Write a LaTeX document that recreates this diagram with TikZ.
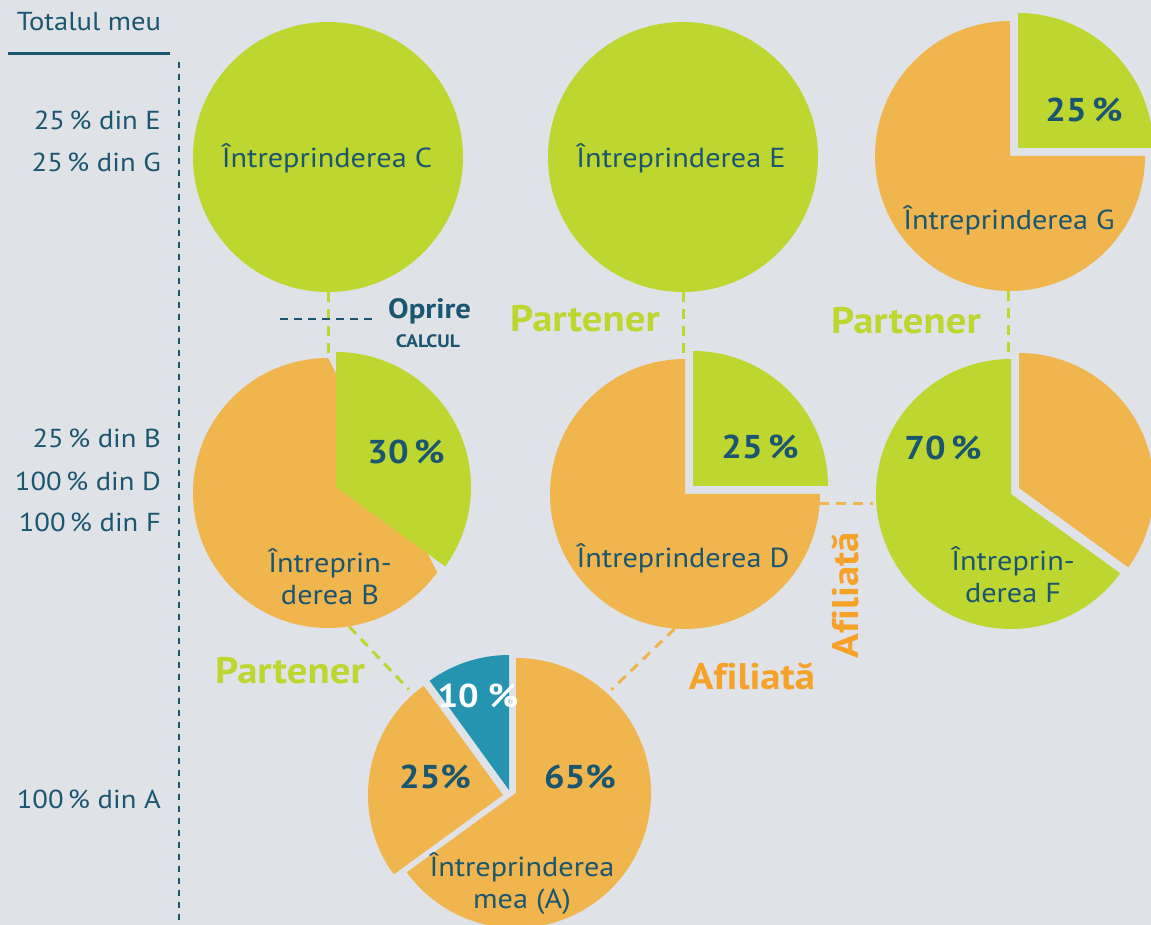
\documentclass[tikz,border=0pt]{standalone}
\usepackage{fontspec}
\setmainfont[FakeStretch=1.1]{PT Sans}
\usetikzlibrary{calc}
\definecolor{bg}{HTML}{DFE2E7}
\definecolor{lime}{HTML}{BED630}
\definecolor{ora}{HTML}{F0B54D}
\definecolor{txt}{HTML}{1B5670}
\definecolor{lbl}{HTML}{F6A229}
\definecolor{blu}{HTML}{2494B0}
\newcommand{\myslice}[5]{\fill[#1] (#2) -- ++(#3:#5) arc[start angle=#3,end angle=#4,radius=#5] -- cycle;}
\begin{document}
\begin{tikzpicture}[x=1pt,y=1pt,
 anchorc/.style={circle,minimum size=270pt,inner sep=0pt},
 reg/.style={text=txt,font=\fontsize{27.5}{32}\selectfont,inner sep=0pt,align=center},
 side/.style={text=txt,font=\fontsize{26}{31}\selectfont,inner sep=0pt,anchor=east},
 pct/.style={text=txt,font=\fontsize{33}{36}\selectfont\bfseries,inner sep=0pt},
 rel/.style={font=\fontsize{37}{40}\selectfont\bfseries\addfontfeatures{Ligatures=NoCommon},inner sep=0pt},
 gdash/.style={lime,line width=3pt,dash pattern=on 10pt off 7pt},
 odash/.style={ora,line width=3pt,dash pattern=on 10pt off 7pt},
 tdash/.style={txt,line width=1.8pt,dash pattern=on 8pt off 6pt},
 vdash/.style={txt,line width=2pt,dash pattern=on 6pt off 6pt},
]
\fill[bg] (0,0) rectangle (1151,925);
\useasboundingbox (0,0) rectangle (1151,925);
% anchor circles
\node[anchorc] (C) at (328,768) {};
\node[anchorc] (E) at (683,768) {};
\node[anchorc] (G) at (1008,769) {};
\node[anchorc] (B) at (328,432) {};
\node[anchorc] (D) at (684,431) {};
\node[anchorc] (F) at (1008,431) {};
\node[anchorc] (A) at (510,134) {};
% header
\node[text=txt,font=\fontsize{26}{31}\selectfont,inner sep=0pt] (tot) at (89,903) {Totalul meu};
\coordinate (u1) at (8,871);
\coordinate (u2) at (170,871);
\draw[txt,line width=3pt] (u1) -- (u2);
\coordinate (v1) at (179,863);
\coordinate (v2) at (179,0);
\draw[vdash] (v1) -- (v2);
% connectors
\draw[gdash] (C.south) -- (C.south |- B.north);
\draw[gdash] (E.south) -- (E.south |- D.north);
\draw[gdash] (G.south) -- (G.south |- F.north);
\draw[odash] (D.-4.7) -- (F.184.7);
\draw[gdash, shorten >=8pt] (B.-81) -- (A.135);
\draw[odash, shorten >=8pt] (D.-94) -- (A.45);
\node[text=txt,font=\fontsize{28}{32}\selectfont\bfseries,inner sep=0pt,anchor=west] (op) at (388,614) {Oprire};
\node[text=txt,font=\fontsize{18}{20}\selectfont\bfseries,inner sep=0pt] (calc) at (428,584) {CALCUL};
\coordinate (s1) at (280,606);
\coordinate (s2) at (375,606);
\draw[tdash] (s1) -- (s2);
% pies
\fill[lime] (C) circle[radius=135];
\fill[lime] (E) circle[radius=135];
\myslice{ora}{$(G)+(2,0)$}{90}{360}{135}
\myslice{lime}{$(G)+(10,8)$}{0}{90}{135}
\myslice{ora}{B}{90}{324}{135}
\myslice{lime}{$(B)+(8,6)$}{-36}{90}{135}
\myslice{ora}{$(D)+(1,0)$}{90}{360}{135}
\myslice{lime}{$(D)+(9,8)$}{0}{90}{135}
\myslice{lime}{$(F)+(3,0)$}{90}{324}{135}
\myslice{ora}{$(F)+(11,6)$}{-36}{90}{135}
\myslice{ora}{$(A)+(6,-2)$}{-144}{90}{135}
\myslice{ora}{$(A)+(-7,-4)$}{126}{216}{135}
\myslice{blu}{$(A)+(-1,1)$}{90}{126}{135}
% left labels
\node[side] (l1) at (161,805) {25\,\% din E};
\node[side] (l2) at (161,763) {25\,\% din G};
\node[side] (l3) at (161,487) {25\,\% din B};
\node[side] (l4) at (161,444) {100\,\% din D};
\node[side] (l5) at (161,403) {100\,\% din F};
\node[side] (l6) at (161,126) {100\,\% din A};
% circle labels
\node[reg] (tC) at (327,767) {Întreprinderea C};
\node[reg] (tE) at (681,767) {Întreprinderea E};
\node[pct] (pG) at (1084,815) {25\,\%};
\node[reg] (tG) at (1009,705) {Întreprinderea G};
\node[pct] (pB) at (406,473) {30\,\%};
\node[reg] (tB) at (330,348) {Întreprin-\\derea B};
\node[pct] (pD) at (760,478) {25\,\%};
\node[reg] (tD) at (683,367) {Întreprinderea D};
\node[pct] (pF) at (943,477) {70\,\%};
\node[reg] (tF) at (1013,350) {Întreprin-\\derea F};
\node[pct,text=white] (pA1) at (478,229) {10 \%};
\node[pct] (pA2) at (435,148) {25\%};
\node[pct] (pA3) at (580,148) {65\%};
\node[reg] (tA) at (522,41) {Întreprinderea\\mea (A)};
% relation labels
\node[rel,text=lime] (p1) at (585,606) {Partener};
\node[rel,text=lime] (p2) at (906,604) {Partener};
\node[rel,text=lime] (p3) at (290,254) {Partener};
\node[rel,text=lbl] (a1) at (752,249) {Afiliată};
\node[rel,text=lbl,rotate=90] (a2) at (845,330) {Afiliată};
\end{tikzpicture}
\end{document}
